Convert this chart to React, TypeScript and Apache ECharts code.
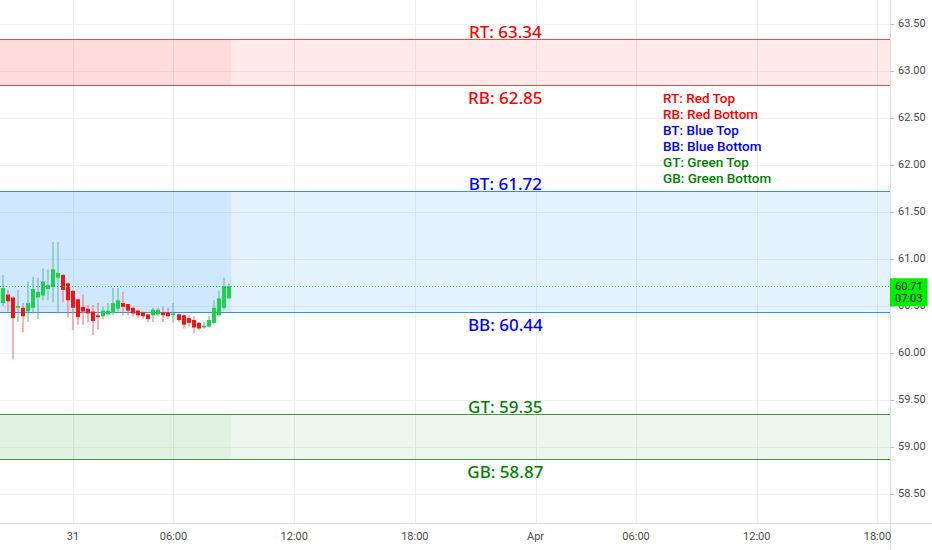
import React, { useEffect, useRef } from "react";
import * as echarts from "echarts";

// ---- axis / categories ----
const barCount = 177;
const xTickIndices = [14, 34, 58, 82, 106, 126, 150, 174];
const xTickLabels = ["31", "06:00", "12:00", "18:00", "Apr", "06:00", "12:00", "18:00"];
const yMin = 58.19;
const yMax = 63.755;

// ---- 15-minute candles (open, high, low, close) ----
const opens = [
  60.53, 60.62, 60.59, 60.48, 60.48, 60.44, 60.48, 60.59, 60.61, 60.68,
  60.7, 60.8, 60.83, 60.74, 60.66, 60.57, 60.49, 60.47, 60.44, 60.4,
  60.39, 60.41, 60.43, 60.47, 60.53, 60.52, 60.48, 60.45, 60.43, 60.41,
  60.4, 60.41, 60.43, 60.43, 60.4, 60.41, 60.4, 60.37, 60.35, 60.32,
  60.27, 60.28, 60.32, 60.4, 60.48, 60.58,
];
const highs = [
  60.83, 60.67, 60.6, 60.67, 60.53, 60.76, 60.81, 60.8, 60.9, 60.89,
  61.18, 61.18, 60.84, 60.75, 60.67, 60.58, 60.62, 60.51, 60.51, 60.53,
  60.49, 60.53, 60.69, 60.69, 60.65, 60.52, 60.49, 60.46, 60.44, 60.42,
  60.48, 60.48, 60.49, 60.48, 60.53, 60.42, 60.41, 60.4, 60.39, 60.33,
  60.33, 60.39, 60.56, 60.66, 60.8, 60.74,
];
const lows = [
  60.5, 60.44, 59.93, 60.33, 60.22, 60.33, 60.42, 60.36, 60.56, 60.56,
  60.54, 60.42, 60.54, 60.38, 60.24, 60.3, 60.3, 60.32, 60.19, 60.25,
  60.36, 60.39, 60.4, 60.44, 60.4, 60.4, 60.39, 60.37, 60.36, 60.33,
  60.33, 60.39, 60.33, 60.36, 60.32, 60.33, 60.26, 60.28, 60.21, 60.24,
  60.26, 60.27, 60.31, 60.39, 60.46, 60.57,
];
const closes = [
  60.69, 60.55, 60.37, 60.5, 60.39, 60.53, 60.68, 60.65, 60.76, 60.72,
  60.89, 60.85, 60.67, 60.56, 60.48, 60.38, 60.44, 60.42, 60.34, 60.38,
  60.45, 60.45, 60.53, 60.56, 60.49, 60.45, 60.42, 60.4, 60.39, 60.36,
  60.46, 60.46, 60.4, 60.39, 60.42, 60.35, 60.3, 60.32, 60.27, 60.26,
  60.29, 60.35, 60.48, 60.58, 60.71, 60.71,
];

// ---- zones ----
const zoneKeys = ["R", "B", "G"];
const zoneTops = [63.34, 61.72, 59.35];
const zoneBottoms = [62.85, 60.44, 58.87];
const zoneTextColors = ["#ff0000", "#0000ff", "#008000"];
const zoneLineColors = ["#e05252", "#3b8fe0", "#3f993f"];
const zoneFills = ["rgba(255,0,0,0.085)", "rgba(33,150,243,0.12)", "rgba(76,175,80,0.1)"];
const zoneDarkFills = ["rgba(255,0,0,0.06)", "rgba(33,150,243,0.1)", "rgba(76,175,80,0.07)"];
const levelLabelIndex = 100;

const legendLines = [
  "RT: Red Top",
  "RB: Red Bottom",
  "BT: Blue Top",
  "BB: Blue Bottom",
  "GT: Green Top",
  "GB: Green Bottom",
];

const lastPrice = 60.71;
const countdown = "07:03";

const upBody = "#1fd14a";
const upWick = "#5fb3a6";
const downBody = "#ee1515";
const downWick = "#f26a6a";

export default function App() {
  const ref = useRef<HTMLDivElement>(null);

  useEffect(() => {
    document.body.style.margin = "0";
    if (!ref.current) return;
    const chart = echarts.init(ref.current, undefined, { renderer: "svg" });

    const categories = Array.from({ length: barCount }, (_, i) => {
      const k = xTickIndices.indexOf(i);
      return k >= 0 ? xTickLabels[k] : "";
    });
    const tickSet = new Set(xTickIndices);
    const lastIdx = opens.length - 1;

    const candleData = opens.map((o, i) => [i, o, closes[i], lows[i], highs[i]]);
    const zoneData = zoneTops.map((t, i) => [i, t, zoneBottoms[i]]);
    const gridData = xTickIndices.map((i) => [i, yMin]);

    const axisFont = "Roboto";

    const option: any = {
      animation: false,
      backgroundColor: "#ffffff",
      grid: { left: 0, right: 42, top: 0, bottom: 27, containLabel: false },
      xAxis: {
        type: "category",
        data: categories,
        boundaryGap: true,
        axisLine: { show: true, lineStyle: { color: "#dcdfe6" } },
        axisTick: { show: false },
        axisLabel: {
          interval: (i: number) => tickSet.has(i),
          color: "#4a4a4a",
          fontSize: 11,
          fontFamily: axisFont,
          margin: 8,
        },
        splitLine: { show: false },
      },
      yAxis: {
        type: "value",
        position: "right",
        min: yMin,
        max: yMax,
        splitNumber: 10,
        axisLine: { show: true, lineStyle: { color: "#dcdfe6" } },
        axisTick: { show: true, length: 4, lineStyle: { color: "#b8bcc4" } },
        axisLabel: {
          color: "#4a4a4a",
          fontSize: 11,
          fontFamily: axisFont,
          margin: 8,
          showMinLabel: false,
          showMaxLabel: false,
          formatter: (v: number) => v.toFixed(2),
        },
        splitLine: {
          show: true,
          showMinLine: false,
          showMaxLine: false,
          lineStyle: { color: "#f0f2f6" },
        },
      },
      series: [
        {
          type: "custom",
          name: "vgrid",
          z: 0,
          silent: true,
          data: gridData,
          encode: { x: 0, y: 1 },
          renderItem: (params: any, api: any) => {
            const cs = params.coordSys;
            const x = Math.round(api.coord([api.value(0), yMin])[0]) + 0.5;
            return {
              type: "line",
              shape: { x1: x, y1: cs.y, x2: x, y2: cs.y + cs.height },
              style: { stroke: "#eceff3", lineWidth: 1 },
            };
          },
        },
        {
          type: "custom",
          name: "zones",
          z: 1,
          silent: true,
          data: zoneData,
          encode: { x: 0, y: [1, 2] },
          renderItem: (params: any, api: any) => {
            const z = api.value(0);
            const top = api.value(1);
            const bot = api.value(2);
            const cs = params.coordSys;
            const yT = Math.round(api.coord([0, top])[1]) + 0.5;
            const yB = Math.round(api.coord([0, bot])[1]) + 0.5;
            const band = api.size([1, 0])[0];
            const xDark = api.coord([lastIdx, top])[0] + band / 2;
            const xLabel = api.coord([levelLabelIndex, top])[0];
            const key = zoneKeys[z];
            const font = '500 17px "Noto Sans"';
            return {
              type: "group",
              children: [
                {
                  type: "rect",
                  shape: { x: cs.x, y: yT, width: cs.width, height: yB - yT },
                  style: { fill: zoneFills[z] },
                },
                {
                  type: "rect",
                  shape: { x: cs.x, y: yT, width: xDark - cs.x, height: yB - yT },
                  style: { fill: zoneDarkFills[z] },
                },
                {
                  type: "line",
                  shape: { x1: cs.x, y1: yT, x2: cs.x + cs.width, y2: yT },
                  style: { stroke: zoneLineColors[z], lineWidth: 1 },
                },
                {
                  type: "line",
                  shape: { x1: cs.x, y1: yB, x2: cs.x + cs.width, y2: yB },
                  style: { stroke: zoneLineColors[z], lineWidth: 1 },
                },
                {
                  type: "text",
                  x: xLabel,
                  y: yT - 8,
                  z2: 10,
                  style: {
                    text: `${key}T: ${top.toFixed(2)}`,
                    fill: zoneTextColors[z],
                    font,
                    align: "center",
                    verticalAlign: "middle",
                  },
                },
                {
                  type: "text",
                  x: xLabel,
                  y: yB + 12,
                  z2: 10,
                  style: {
                    text: `${key}B: ${bot.toFixed(2)}`,
                    fill: zoneTextColors[z],
                    font,
                    align: "center",
                    verticalAlign: "middle",
                  },
                },
              ],
            };
          },
        },
        {
          type: "custom",
          name: "candles",
          z: 3,
          data: candleData,
          encode: { x: 0, y: [1, 2, 3, 4] },
          renderItem: (params: any, api: any) => {
            const i = api.value(0);
            const o = api.value(1);
            const c = api.value(2);
            const l = api.value(3);
            const h = api.value(4);
            const pO = api.coord([i, o]);
            const pC = api.coord([i, c]);
            const pL = api.coord([i, l]);
            const pH = api.coord([i, h]);
            const up = c >= o;
            const bw = 4;
            const x0 = Math.round(pO[0] - bw / 2);
            const bTop = Math.min(pO[1], pC[1]);
            const bH = Math.max(1.2, Math.abs(pO[1] - pC[1]));
            return {
              type: "group",
              children: [
                {
                  type: "rect",
                  shape: { x: x0 + 1.5, y: pH[1], width: 1, height: pL[1] - pH[1] },
                  style: { fill: up ? upWick : downWick },
                },
                {
                  type: "rect",
                  shape: { x: x0, y: bTop, width: bw, height: bH },
                  style: { fill: up ? upBody : downBody },
                },
              ],
            };
          },
          markLine: {
            silent: true,
            symbol: ["none", "none"],
            lineStyle: { color: "#22c43a", type: [1, 2], width: 1 },
            label: {
              show: true,
              position: "end",
              distance: 0,
              offset: [0, 6],
              formatter: `${lastPrice.toFixed(2)}\n${countdown}`,
              backgroundColor: "#00ee00",
              color: "#1a1a1a",
              fontSize: 11,
              fontFamily: axisFont,
              lineHeight: 12,
              padding: [2, 5, 2, 5],
              align: "left",
            },
            data: [{ yAxis: lastPrice }],
          },
        },
      ],
      graphic: [
        ...legendLines.map((t, k) => ({
          type: "text",
          left: 663,
          top: 90 + k * 16,
          z: 10,
          style: {
            text: t,
            fill: zoneTextColors[Math.floor(k / 2)],
            font: '500 13.5px Roboto',
            lineHeight: 15,
          },
        })),
        {
          type: "line",
          shape: { x1: 890.5, y1: 523, x2: 890.5, y2: 550 },
          style: { stroke: "#dcdfe6", lineWidth: 1 },
        },
        {
          type: "line",
          shape: { x1: 890, y1: 523.5, x2: 932, y2: 523.5 },
          style: { stroke: "#dcdfe6", lineWidth: 1 },
        },
      ],
    };

    chart.setOption(option);
    return () => chart.dispose();
  }, []);

  return (
    <div
      ref={ref}
      style={{ position: "fixed", left: 0, top: 0, width: 932, height: 550 }}
    />
  );
}
